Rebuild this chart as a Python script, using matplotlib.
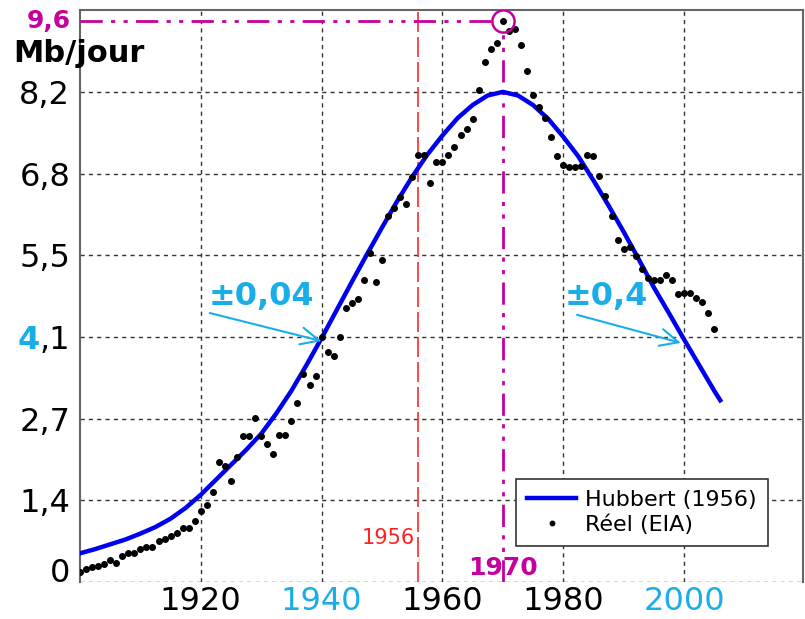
import numpy as np
import matplotlib.pyplot as plt
import matplotlib.transforms as mtransforms

# Production réelle (EIA), Mb/jour, une valeur par an de 1900 à 2005
years = np.arange(1900, 2006)
reel = [0.17, 0.22, 0.25, 0.27, 0.30, 0.36, 0.32, 0.43, 0.48, 0.49,
        0.55, 0.59, 0.59, 0.69, 0.72, 0.77, 0.82, 0.91, 0.91, 1.02,
        1.19, 1.28, 1.51, 2.00, 1.94, 1.69, 2.09, 2.45, 2.45, 2.74,
        2.44, 2.31, 2.14, 2.46, 2.46, 2.70, 2.99, 3.48, 3.30, 3.45,
        4.10, 3.84, 3.78, 4.10, 4.58, 4.67, 4.73, 5.06, 5.51, 5.02,
        5.39, 6.13, 6.25, 6.44, 6.32, 6.78, 7.14, 7.14, 6.68, 7.03,
        7.03, 7.14, 7.28, 7.48, 7.58, 7.75, 8.23, 8.70, 8.91, 9.01,
        9.38, 9.22, 9.25, 8.99, 8.55, 8.15, 7.95, 7.76, 7.45, 7.13,
        6.98, 6.94, 6.94, 6.96, 7.15, 7.13, 6.79, 6.45, 6.12, 5.72,
        5.57, 5.60, 5.45, 5.24, 5.09, 5.05, 5.06, 5.14, 5.06, 4.82,
        4.84, 4.83, 4.75, 4.68, 4.50, 4.24]

hub_years = [1900, 1902.5, 1905, 1907.5, 1910, 1912.5, 1915, 1917.5,
             1920, 1922.5, 1925, 1927.5, 1930, 1932.5, 1935, 1937.5,
             1940, 1942.5, 1945, 1947.5, 1950, 1952.5, 1955, 1957.5,
             1960, 1962.5, 1965, 1967.5, 1970, 1972.5, 1975, 1977.5,
             1980, 1982.5, 1985, 1987.5, 1990, 1992.5, 1995, 1997.5,
             2000, 2002.5, 2005, 2006]
hub_vals = [0.48, 0.55, 0.63, 0.71, 0.81, 0.92, 1.06, 1.24,
            1.46, 1.71, 1.96, 2.21, 2.48, 2.82, 3.20, 3.63,
            4.08, 4.55, 5.02, 5.48, 5.93, 6.37, 6.78, 7.15,
            7.47, 7.76, 7.98, 8.14, 8.20, 8.14, 7.98, 7.75,
            7.45, 7.12, 6.72, 6.30, 5.86, 5.40, 4.93, 4.50,
            4.06, 3.63, 3.20, 3.04]

yticks = np.linspace(0, 8.2, 7)
ylabels = ['0', '1,4', '2,7', '', '5,5', '6,8', '8,2']
xticks = [1920, 1940, 1960, 1980, 2000]
xlabels = ['1920', '1940', '1960', '1980', '2000']

peak_year = 1970
peak_val = 9.38
hubbert_year = 1956

cyan = '#19aee8'
magenta = '#c4009e'
blue = '#0000f0'

fig = plt.figure(figsize=(8.05, 6.19), dpi=100)
ax = fig.add_axes([80 / 805, 37 / 619, 723 / 805, 572 / 619])
ax.set_xlim(1900, 2019.7)
ax.set_ylim(0, 9.57)

# grille pointillée
ax.set_axisbelow(True)
ax.grid(True, color='#333333', ls=(0, (3, 3)), lw=1)
for s in ['left', 'top', 'right']:
    ax.spines[s].set_color('#666666')
    ax.spines[s].set_linewidth(1.5)
ax.spines['bottom'].set_visible(False)

ax.set_xticks(xticks)
ax.set_xticklabels(xlabels)
ax.set_yticks(yticks)
ax.set_yticklabels(ylabels)
ax.tick_params(axis='both', length=0, labelsize=23)
ax.tick_params(axis='y', pad=7)
ax.tick_params(axis='x', pad=3)
for lab, c in zip(ax.get_xticklabels(), ['black', cyan, 'black', 'black', cyan]):
    lab.set_color(c)
ax.get_yticklabels()[0].set_va('baseline')

trans = mtransforms.blended_transform_factory(ax.transAxes, ax.transData)
t41 = ax.text(-0.0138, yticks[3], ',1', transform=trans, ha='right',
              va='center_baseline', fontsize=23)
ax.annotate('4', xy=(0, 0.5), xycoords=t41, ha='right', va='center',
            fontsize=23, fontweight='bold', color=cyan)

# lignes repères
ax.axvline(hubbert_year, color='#ff2a2a', lw=1.2, ls=(0, (12, 3)), zorder=2)
ax.hlines(peak_val, 1900, peak_year - 1.8, color=magenta, lw=2,
          ls=(0, (8, 3, 1.5, 3, 1.5, 3)), zorder=3)
ax.vlines(peak_year, 0, peak_val - 0.18, color=magenta, lw=2,
          ls=(0, (8, 3, 1.5, 3, 1.5, 3)), zorder=3)

ax.plot(hub_years, hub_vals, color=blue, lw=3.2, label='Hubbert (1956)', zorder=4)
ax.plot(years, reel, 'o', color='black', ms=4, ls='none', label='Réel (EIA)', zorder=5)
ax.plot(peak_year, peak_val, 'o', mfc='none', mec=magenta, ms=16, mew=1.8, zorder=6)

# textes
ax.text(-0.0927, 8.85, 'Mb/jour', transform=trans, fontsize=22,
        fontweight='bold', ha='left', va='center')
ax.text(-0.012, peak_val, '9,6', transform=trans, fontsize=18,
        fontweight='bold', color=magenta, ha='right', va='center')
ax.text(hubbert_year - 0.5, 0.74, '1956', color='#ff2020', fontsize=15,
        ha='right', va='center')
ax.text(peak_year, 0.23, '1970', color=magenta, fontsize=18,
        fontweight='bold', ha='center', va='center', zorder=2)

ax.text(1930.1, 4.77, '±0,04', color=cyan, fontsize=23, fontweight='bold',
        ha='center', va='center')
ax.text(1987.1, 4.77, '±0,4', color=cyan, fontsize=23, fontweight='bold',
        ha='center', va='center')
arrow = dict(arrowstyle='->,head_length=0.6,head_width=0.28', color=cyan,
             lw=1.5, mutation_scale=22, shrinkA=0, shrinkB=0)
ax.annotate('', xy=(1940, 4.03), xytext=(1921.5, 4.50), arrowprops=arrow, zorder=7)
ax.annotate('', xy=(1999.5, 4.00), xytext=(1982.3, 4.47), arrowprops=arrow, zorder=7)

leg = ax.legend(loc='lower right', bbox_to_anchor=(0.9516, 0.063),
                borderaxespad=0, fontsize=16, fancybox=False, framealpha=1,
                edgecolor='#333333', labelspacing=0.2, handletextpad=0.4,
                borderpad=0.5, handlelength=2.2, markerscale=0.8)
leg.get_frame().set_linewidth(1.2)
leg.set_zorder(10)

fig.savefig('out.png', dpi=100)
